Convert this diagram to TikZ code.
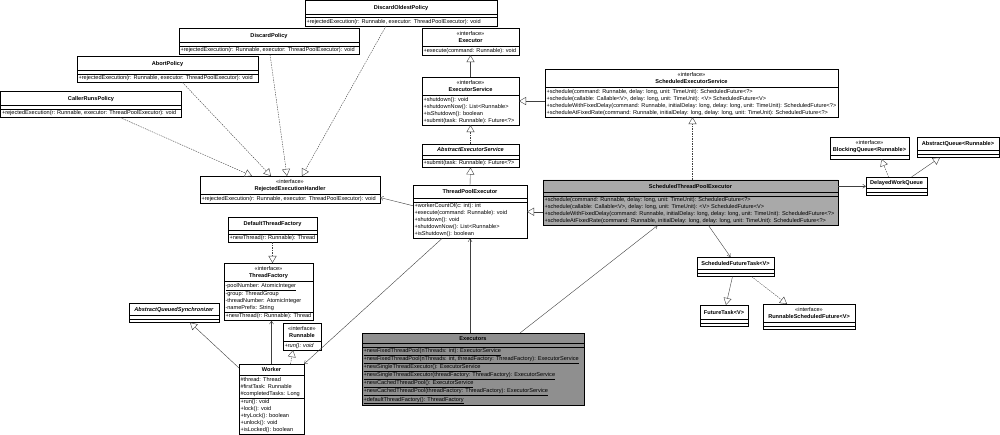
\documentclass[tikz,border=0pt]{standalone}
\usepackage{fontspec}
\setmainfont{Liberation Sans}
\usetikzlibrary{shapes.multipart,arrows.meta}

\definecolor{stpegrey}{HTML}{A9A9A9}
\definecolor{exsgrey}{HTML}{8F8F8F}
% title line with a strut of given height
\newcommand\hd[2]{\rule[\dimexpr 2pt-#1/2\relax]{0pt}{#1}\textbf{#2}}
% interface header
\newcommand\itf[1]{\begin{tabular}{@{}c@{}}\rule{0pt}{6.6pt}«interface»\\\textbf{#1}\rule[-3.5pt]{0pt}{3.5pt}\end{tabular}}
% several members, one per line
\newcommand\mlines[1]{\begin{tabular}{@{}l@{}}#1\end{tabular}}
% empty compartment
\newcommand\emp{\hspace*{0.1pt}\rule{0pt}{2pt}}

\begin{document}
\begin{tikzpicture}[x=1pt, y=-1pt,
	cls/.style={draw, line width=0.5pt, fill=white, rectangle split, rectangle split parts=3,
		rectangle split part align={center,left,left},
		anchor=north west, inner xsep=1.5pt, inner ysep=0.5pt, outer sep=0pt,
		font=\fontsize{5.6}{7}\selectfont},
	itf/.style={cls, rectangle split parts=2},
	gen/.style={draw=black!75, line width=0.4pt, -{Triangle[open, length=7pt, width=8pt]}},
	real/.style={gen, dash pattern=on 1.5pt off 1pt},
	dep/.style={draw=black!75, line width=0.4pt, -{Straight Barb[length=3pt, width=4pt]}}]
	\useasboundingbox (0,0) rectangle (1000,435);

	% rejection policies
	\node[cls, minimum width=192pt] (dop) at (305,0.5) {\hd{12pt}{DiscardOldestPolicy}\nodepart{two}\emp\nodepart{three}\strut+rejectedExecution(r: Runnable, executor: ThreadPoolExecutor): void};
	\node[cls, minimum width=180pt] (dp) at (179,28) {\hd{13pt}{DiscardPolicy}\nodepart{two}\emp\nodepart{three}\strut+rejectedExecution(r: Runnable, executor: ThreadPoolExecutor): void};
	\node[cls, minimum width=181pt] (ap) at (77,56) {\hd{13pt}{AbortPolicy}\nodepart{two}\emp\nodepart{three}\strut+rejectedExecution(r: Runnable, executor: ThreadPoolExecutor): void};
	\node[cls, minimum width=181pt] (crp) at (0.5,91) {\hd{13pt}{CallerRunsPolicy}\nodepart{two}\emp\nodepart{three}\strut+rejectedExecution(r: Runnable, executor: ThreadPoolExecutor): void};
	\node[itf, minimum width=180pt] (reh) at (200,176) {\itf{RejectedExecutionHandler}\nodepart{two}\strut+rejectedExecution(r: Runnable, executor: ThreadPoolExecutor): void};

	% executor hierarchy
	\node[itf, minimum width=97pt] (ex) at (422,28) {\itf{Executor}\nodepart{two}\strut+execute(command: Runnable): void};
	\node[itf, minimum width=97pt] (es) at (422,77) {\itf{ExecutorService}\nodepart{two}\mlines{+shutdown(): void\\+shutdownNow(): List<Runnable>\\+isShutdown(): boolean\\+submit(task: Runnable): Future<?>}};
	\node[cls, minimum width=97pt] (aes) at (422,144) {\hd{10pt}{\textit{AbstractExecutorService}}\nodepart{two}\emp\nodepart{three}\strut+submit(task: Runnable): Future<?>};
	\node[cls, minimum width=114pt] (tpe) at (413,185) {\hd{12pt}{ThreadPoolExecutor}\nodepart{two}\emp\nodepart{three}\mlines{+workerCountOf(c: int): int\\+execute(command: Runnable): void\\+shutdown(): void\\+shutdownNow(): List<Runnable>\\+isShutdown(): boolean}};
	\node[itf, minimum width=293pt] (ses) at (545,69) {\itf{ScheduledExecutorService}\nodepart{two}\mlines{+schedule(command: Runnable, delay: long, unit: TimeUnit): ScheduledFuture<?>\\
		+schedule(callable: Callable<V>, delay: long, unit: TimeUnit): <V> ScheduledFuture<V>\\
		+scheduleWithFixedDelay(command: Runnable, initialDelay: long, delay: long, unit: TimeUnit): ScheduledFuture<?>\\
		+scheduleAtFixedRate(command: Runnable, initialDelay: long, delay: long, unit: TimeUnit): ScheduledFuture<?>}};
	\node[cls, fill=stpegrey, minimum width=295pt] (stpe) at (543,180) {\hd{11pt}{ScheduledThreadPoolExecutor}\nodepart{two}\emp\nodepart{three}\mlines{+schedule(command: Runnable, delay: long, unit: TimeUnit): ScheduledFuture<?>\\
		+schedule(callable: Callable<V>, delay: long, unit: TimeUnit): <V> ScheduledFuture<V>\\
		+scheduleWithFixedDelay(command: Runnable, initialDelay: long, delay: long, unit: TimeUnit): ScheduledFuture<?>\\
		+scheduleAtFixedRate(command: Runnable, initialDelay: long, delay: long, unit: TimeUnit): ScheduledFuture<?>}};

	% queue and tasks
	\node[cls, minimum width=61pt] (dwq) at (866,177) {\hd{10pt}{DelayedWorkQueue}\nodepart{two}\emp\nodepart{three}\emp};
	\node[itf, minimum width=79pt] (bq) at (830,137) {\itf{BlockingQueue<Runnable>}\nodepart{two}\emp};
	\node[cls, minimum width=82pt] (aq) at (917,137) {\hd{12pt}{AbstractQueue<Runnable>}\nodepart{two}\emp\nodepart{three}\emp};
	\node[cls, minimum width=77pt] (sft) at (697,257) {\hd{11pt}{ScheduledFutureTask<V>}\nodepart{two}\emp\nodepart{three}\emp};
	\node[cls, minimum width=48pt] (ft) at (700,305) {\hd{13pt}{FutureTask<V>}\nodepart{two}\emp\nodepart{three}\emp};
	\node[cls, minimum width=92pt] (rsf) at (763,304) {\itf{RunnableScheduledFuture<V>}\nodepart{two}\emp\nodepart{three}\emp};

	% factory
	\node[cls, fill=exsgrey, minimum width=222pt] (exs) at (362,333) {\hd{9pt}{Executors}\nodepart{two}\emp\nodepart{three}\mlines{\underline{+newFixedThreadPool(nThreads: int): ExecutorService}\\
		\underline{+newFixedThreadPool(nThreads: int, threadFactory: ThreadFactory): ExecutorService}\\
		\underline{+newSingleThreadExecutor(): ExecutorService}\\
		\underline{+newSingleThreadExecutor(threadFactory: ThreadFactory): ExecutorService}\\
		\underline{+newCachedThreadPool(): ExecutorService}\\
		\underline{+newCachedThreadPool(threadFactory: ThreadFactory): ExecutorService}\\
		\underline{+defaultThreadFactory(): ThreadFactory}}};

	% threads and workers
	\node[cls, minimum width=89pt] (dtf) at (228,217) {\hd{12pt}{DefaultThreadFactory}\nodepart{two}\emp\nodepart{three}\strut+newThread(r: Runnable): Thread};
	\node[cls, minimum width=89pt] (tf) at (224,263) {\itf{ThreadFactory}\nodepart{two}\mlines{\underline{-poolNumber: AtomicInteger}\\-group: ThreadGroup\\-threadNumber: AtomicInteger\\-namePrefix: String}\nodepart{three}\strut+newThread(r: Runnable): Thread};
	\node[cls, minimum width=90pt] (aqs) at (129,303) {\hd{11pt}{\textit{AbstractQueuedSynchronizer}}\nodepart{two}\emp\nodepart{three}\emp};
	\node[itf, minimum width=38pt] (run) at (283,323) {\itf{Runnable}\nodepart{two}\strut\textit{+run(): void}};
	\node[cls, minimum width=65pt] (wk) at (239,364) {\hd{10pt}{Worker}\nodepart{two}\mlines{\#thread: Thread\\\#firstTask: Runnable\\\#completedTasks: Long}\nodepart{three}\mlines{+run(): void\\+lock(): void\\+tryLock(): boolean\\+unlock(): void\\+isLocked(): boolean}};

	% policies implement the handler
	\draw[real] ([xshift=29pt]crp.south) -- ([xshift=-38pt]reh.north);
	\draw[real] ([xshift=15pt]ap.south) -- ([xshift=-19pt]reh.north);
	\draw[real] ([xshift=1pt]dp.south) -- ([xshift=-3pt]reh.north);
	\draw[real] ([xshift=-15pt]dop.south) -- ([xshift=12pt]reh.north);

	% executors
	\draw[gen] (es.north) -- (ex.south);
	\draw[real] (aes.north) -- (es.south);
	\draw[gen] (tpe.north) -- (aes.south);
	\draw[gen] (es.east -| ses.west) -- (es.east);
	\draw[real] ([xshift=2pt]stpe.north) -- ([xshift=2pt]stpe.north |- ses.south);
	\draw[gen] (tpe.east -| stpe.west) -- (tpe.east);
	\draw[dep] ([yshift=6pt]tpe.west) -- ([yshift=-8pt]reh.east);
	\draw[dep] (stpe.east |- dwq.west) -- (dwq.west);
	\draw[real] ([xshift=-8pt]dwq.north) -- ([xshift=12pt]bq.south);
	\draw[gen] ([xshift=15pt]dwq.north) -- ([xshift=-18pt]aq.south);
	\draw[dep] ([xshift=18pt]stpe.south) -- ([xshift=-5pt]sft.north);
	\draw[gen] ([xshift=-3pt]sft.south) -- ([xshift=2pt]ft.north);
	\draw[real] ([xshift=16pt]sft.south) -- ([xshift=-22pt]rsf.north);
	\draw[dep] (tpe.south |- exs.north) -- (tpe.south);
	\draw[dep] ([xshift=47pt]exs.north) -- ([xshift=-33pt]stpe.south);

	% workers
	\draw[dep] ([xshift=-28pt]tpe.south) -- (wk.north east);
	\draw[gen] ([yshift=-4pt]wk.north west) -- ([xshift=16pt]aqs.south);
	\draw[dep] (wk.north) -- (wk.north |- tf.south);
	\draw[real] ([xshift=19pt]wk.north) -- ([xshift=-9pt]run.south);
	\draw[real] (dtf.south) -- (dtf.south |- tf.north);
\end{tikzpicture}
\end{document}
